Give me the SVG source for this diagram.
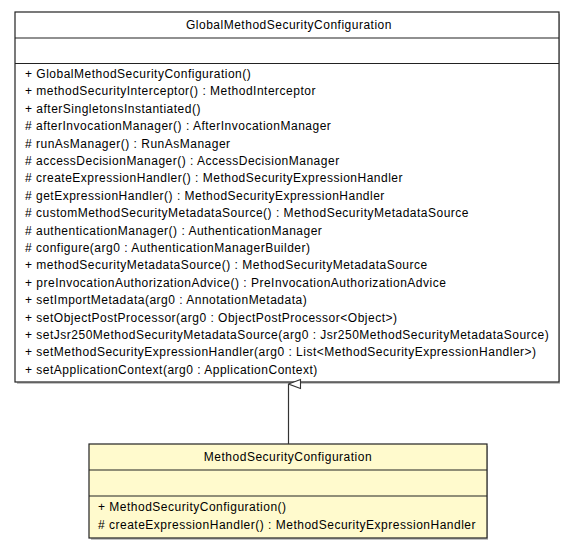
<svg xmlns="http://www.w3.org/2000/svg" width="576" height="549" viewBox="0 0 576 549">
<style>
text{font-family:"Liberation Sans",Arial,sans-serif;font-size:12px;letter-spacing:0.5px;fill:#000}
.box{stroke:#222;stroke-width:1.2}
.sep{stroke:#222;stroke-width:1.2}
.c{text-anchor:middle}
</style>
<defs>
<marker id="gen" markerWidth="12" markerHeight="14" refX="6" refY="1" orient="auto" markerUnits="userSpaceOnUse" viewBox="0 0 12 14">
<path d="M6,1 L10.5,13 L1.5,13 Z" fill="#fff" stroke="#333" stroke-width="1.1"/>
</marker>
</defs>
<rect width="576" height="549" fill="#fff"/>
<g id="GlobalMethodSecurityConfiguration">
<rect x="17" y="14" width="543" height="370" fill="#888" opacity="0.5"/>
<rect class="box" x="15" y="12" width="544" height="370" fill="#fff"/>
<line class="sep" x1="15" y1="38" x2="559" y2="38"/>
<line class="sep" x1="15" y1="63.5" x2="559" y2="63.5"/>
<text class="c" x="289" y="29">GlobalMethodSecurityConfiguration</text>
<text x="25" y="78">+ GlobalMethodSecurityConfiguration()</text>
<text x="25" y="95.4">+ methodSecurityInterceptor() : MethodInterceptor</text>
<text x="25" y="112.8">+ afterSingletonsInstantiated()</text>
<text x="25" y="130.2"># afterInvocationManager() : AfterInvocationManager</text>
<text x="25" y="147.6"># runAsManager() : RunAsManager</text>
<text x="25" y="165"># accessDecisionManager() : AccessDecisionManager</text>
<text x="25" y="182.4"># createExpressionHandler() : MethodSecurityExpressionHandler</text>
<text x="25" y="199.8"># getExpressionHandler() : MethodSecurityExpressionHandler</text>
<text x="25" y="217.2"># customMethodSecurityMetadataSource() : MethodSecurityMetadataSource</text>
<text x="25" y="234.6"># authenticationManager() : AuthenticationManager</text>
<text x="25" y="252"># configure(arg0 : AuthenticationManagerBuilder)</text>
<text x="25" y="269.4">+ methodSecurityMetadataSource() : MethodSecurityMetadataSource</text>
<text x="25" y="286.8">+ preInvocationAuthorizationAdvice() : PreInvocationAuthorizationAdvice</text>
<text x="25" y="304.2">+ setImportMetadata(arg0 : AnnotationMetadata)</text>
<text x="25" y="321.6">+ setObjectPostProcessor(arg0 : ObjectPostProcessor&lt;Object&gt;)</text>
<text x="25" y="339">+ setJsr250MethodSecurityMetadataSource(arg0 : Jsr250MethodSecurityMetadataSource)</text>
<text x="25" y="356.4">+ setMethodSecurityExpressionHandler(arg0 : List&lt;MethodSecurityExpressionHandler&gt;)</text>
<text x="25" y="373.8">+ setApplicationContext(arg0 : ApplicationContext)</text>
</g>
<g id="MethodSecurityConfiguration">
<rect x="91" y="446" width="397" height="94" fill="#888" opacity="0.5"/>
<rect class="box" x="89" y="444" width="398" height="94" fill="#FFFACD"/>
<line class="sep" x1="89" y1="470" x2="487" y2="470"/>
<line class="sep" x1="89" y1="496" x2="487" y2="496"/>
<text class="c" x="288" y="461">MethodSecurityConfiguration</text>
<text x="98" y="511">+ MethodSecurityConfiguration()</text>
<text x="98" y="529"># createExpressionHandler() : MethodSecurityExpressionHandler</text>
</g>
<g id="connectors">
<line x1="288.5" y1="444" x2="288.5" y2="384" stroke="#333" stroke-width="1.2" marker-end="url(#gen)"/>
</g>
</svg>
